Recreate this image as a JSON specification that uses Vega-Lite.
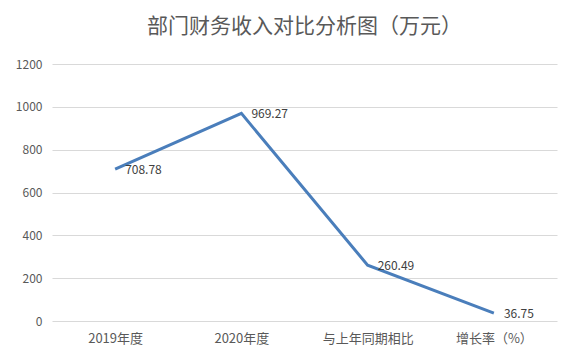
{
  "$schema": "https://vega.github.io/schema/vega-lite/v6.json",
  "width": 505,
  "height": 257,
  "autosize": {"type": "none"},
  "padding": {"left": 52, "top": 64, "right": 18, "bottom": 43},
  "background": "white",
  "title": {
    "text": "部门财务收入对比分析图（万元）",
    "font": "Noto Sans CJK SC",
    "fontSize": 21,
    "fontWeight": "normal",
    "color": "#595959",
    "anchor": "middle",
    "offset": 21
  },
  "data": {
    "values": [
      {"cat": "2019年度", "value": 708.78},
      {"cat": "2020年度", "value": 969.27},
      {"cat": "与上年同期相比", "value": 260.49},
      {"cat": "增长率（%）", "value": 36.75}
    ]
  },
  "config": {
    "view": {"stroke": null},
    "axis": {
      "labelFont": "Noto Sans CJK SC",
      "labelFontSize": 12,
      "labelColor": "#595959",
      "gridColor": "#d9d9d9",
      "ticks": false,
      "domain": false
    }
  },
  "encoding": {
    "x": {
      "field": "cat",
      "type": "ordinal",
      "sort": null,
      "scale": {"type": "point", "padding": 0.5},
      "axis": {"title": null, "labelAngle": 0, "labelPadding": 11, "labelFontSize": 13, "grid": false}
    },
    "y": {
      "field": "value",
      "type": "quantitative",
      "scale": {"domain": [0, 1200]},
      "axis": {"title": null, "values": [0, 200, 400, 600, 800, 1000, 1200], "format": "d", "labelPadding": 10, "grid": true}
    }
  },
  "layer": [
    {"mark": {"type": "line", "color": "#4a7ebb", "strokeWidth": 3}},
    {
      "mark": {"type": "text", "align": "left", "baseline": "middle", "dx": 10, "dy": 1, "font": "Noto Sans CJK SC", "fontSize": 12, "color": "#404040"},
      "encoding": {"text": {"field": "value", "type": "quantitative", "format": ".2f"}}
    }
  ]
}
